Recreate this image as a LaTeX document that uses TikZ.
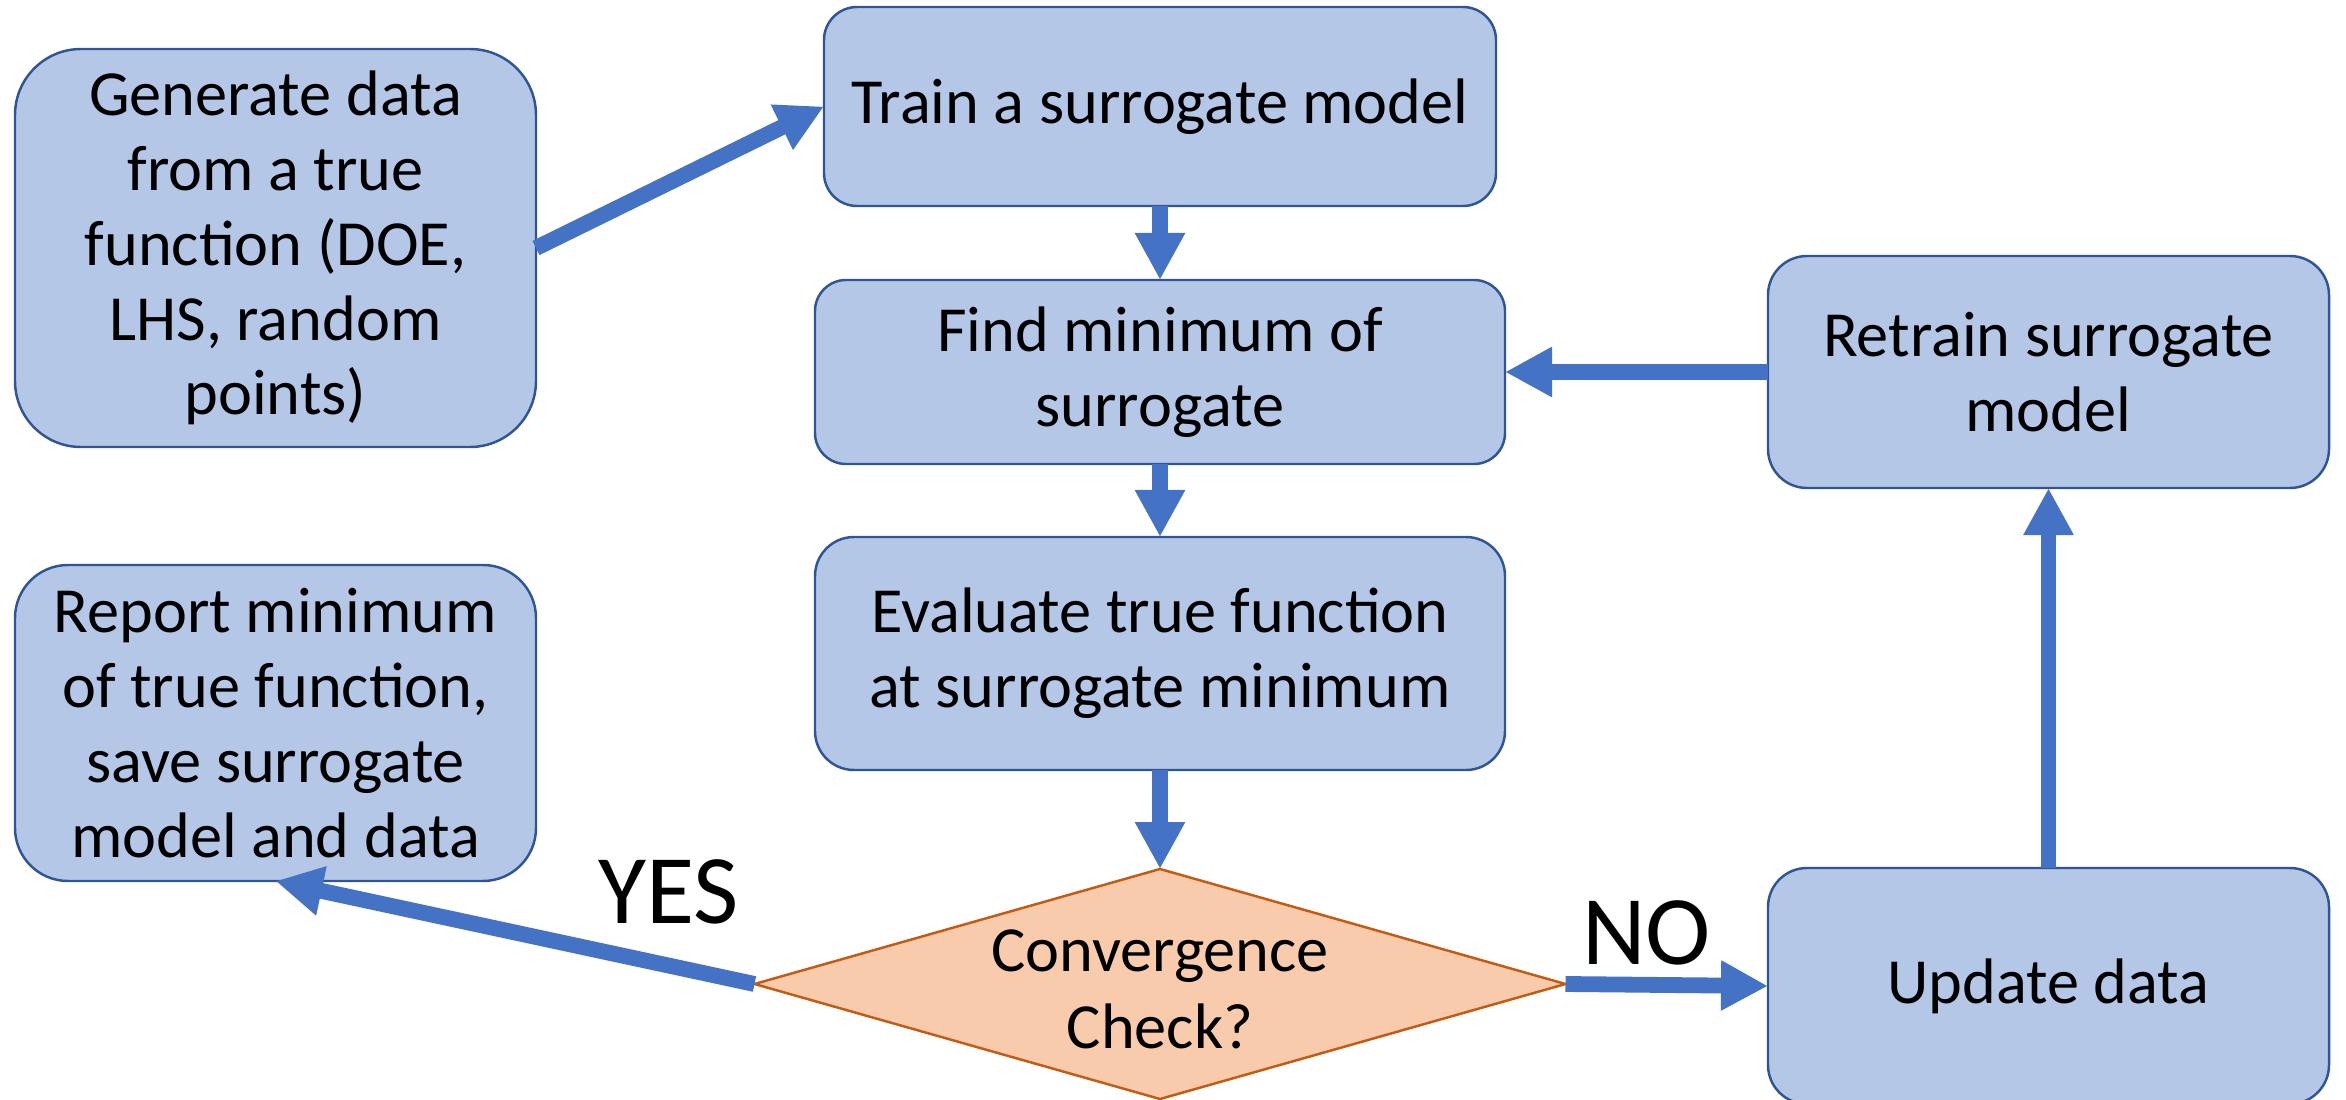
\documentclass[tikz,border=0pt]{standalone}
\usepackage{fontspec}
\setmainfont{Carlito}
\usetikzlibrary{positioning}
\usetikzlibrary{shapes.geometric}
\usetikzlibrary{arrows.meta}
\definecolor{boxfill}{HTML}{B4C7E7}
\definecolor{boxline}{HTML}{2F5597}
\definecolor{arrowblue}{HTML}{4472C4}
\definecolor{checkfill}{HTML}{F8CBAD}
\definecolor{checkline}{HTML}{C55A11}
\tikzset{node distance=0.74cm, % Gap between the boxes of the middle column
every node/.style={font=\fontsize{18.3}{21.3}\selectfont},
stage/.style={ % Sets the properties for each rounded box
rectangle,
draw=boxline, line width=0.7pt,
fill=boxfill,
align=center, inner sep=0pt, outer sep=0pt},
decision/.style={ % The convergence diamond
diamond,
draw=checkline, line width=0.7pt,
fill=checkfill,
inner sep=0pt, outer sep=0pt},
answer/.style={font=\fontsize{28}{33}\selectfont}, % YES / NO labels
every edge/.style={ % Sets the properties for each arrow
draw=arrowblue,
line width=4.5pt,
-{Triangle[length=0.47cm,width=0.47cm]}}}

\begin{document}
\begin{tikzpicture}
					\useasboundingbox (0,0) rectangle (23.46,10.99);

					\node[stage, minimum width=5.21cm, minimum height=3.98cm, rounded corners=0.66cm] (gen) at (2.755,8.51) {Generate data\\from a true\\function (DOE,\\LHS, random\\points)};
					\node[stage, minimum width=5.21cm, minimum height=3.16cm, rounded corners=0.53cm, below=1.18cm of gen] (report) {Report minimum\\of true function,\\save surrogate\\model and data};

					\node[stage, minimum width=6.72cm, minimum height=1.99cm, rounded corners=0.33cm] (train) at (11.60,9.925) {Train a surrogate model};
					\node[stage, minimum width=6.90cm, minimum height=1.84cm, rounded corners=0.31cm, below=of train] (findmin) {Find minimum of\\surrogate};
					\node[stage, minimum width=6.90cm, minimum height=2.33cm, rounded corners=0.39cm, below=0.73cm of findmin] (evalf) {Evaluate true function\\at surrogate minimum};
					\node[decision, minimum width=8.11cm, minimum height=2.30cm, below=0.99cm of evalf,
						label={[align=center, yshift=-0.05cm]center:Convergence\\[0.02cm]Check?}] (check) {};

					\node[stage, minimum width=5.61cm, minimum height=2.32cm, rounded corners=0.39cm, right=2.63cm of findmin] (retrain) {Retrain surrogate\\model};
					\node[stage, minimum width=5.61cm, minimum height=2.36cm, rounded corners=0.39cm, below=3.8cm of retrain] (update) {Update data};

					\draw (gen.east) edge (train.west);
					\draw (train) edge (findmin);
					\draw (findmin) edge (evalf);
					\draw (evalf) edge (check);
					\draw (check.east) edge node[answer, above=0cm, pos=0.4] {NO} (update.west);
					\draw (update) edge (retrain);
					\draw (retrain) edge (findmin);
					\draw (check.west) edge node[answer, above=0.22cm, pos=0.18] {YES} (report.south);
				\end{tikzpicture}
\end{document}
